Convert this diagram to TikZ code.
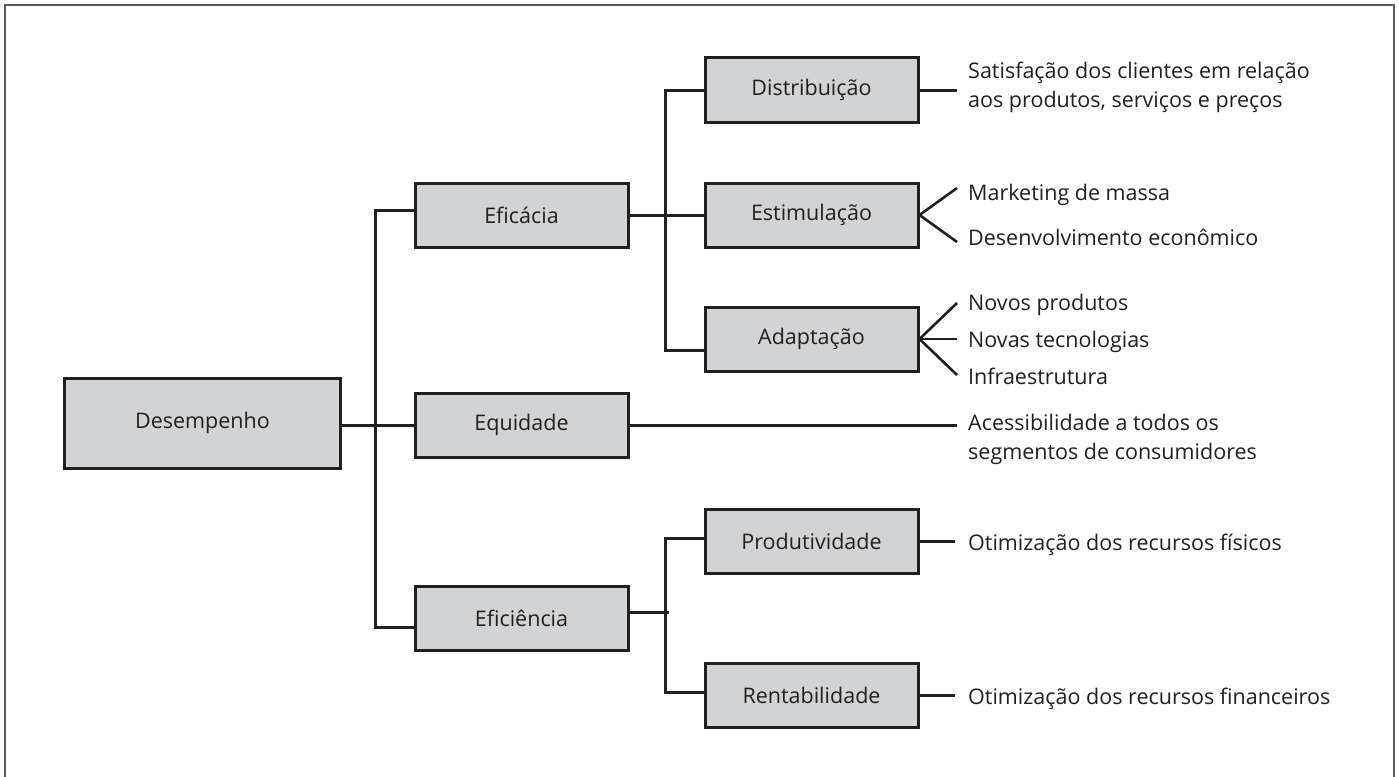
\documentclass[tikz,border=0pt]{standalone}
\usepackage{fontspec}
\setmainfont{Open Sans}
\definecolor{boxfill}{HTML}{D1D3D4}
\definecolor{boxline}{HTML}{231F20}
\definecolor{txt}{HTML}{231F20}
\definecolor{framec}{HTML}{5A5A5C}
\begin{document}
\begin{tikzpicture}[x=1pt,y=-1pt,
  font=\fontsize{21.5}{29}\selectfont,
  box/.style={draw=boxline, fill=boxfill, line width=3pt, minimum width=213pt, minimum height=64pt, inner sep=0pt, text=txt},
  link/.style={draw=boxline, line width=3pt},
  fan/.style={draw=boxline, line width=2.6pt},
  lbl/.style={anchor=west, inner sep=0pt, text=txt, align=left},
  lbl1/.style={lbl, text height=15pt, text depth=0pt}]
\useasboundingbox (0,0) rectangle (1399,776);
\draw[draw=framec, line width=2.4pt] (5,780) -- (5,5) -- (1394,5) -- (1394,780);
% boxes
\node[box, minimum width=276pt, minimum height=90pt] (des) at (202.5,423) {Desempenho};
\node[box] (efa) at (521.5,215) {Eficácia};
\node[box] (equ) at (521.5,425) {Equidade};
\node[box] (efi) at (521.5,618.5) {Eficiência};
\node[box] (dis) at (811.5,90) {Distribuição};
\node[box] (est) at (811.5,215) {Estimulação};
\node[box] (ada) at (811.5,339) {Adaptação};
\node[box] (pro) at (811.5,541.5) {Produtividade};
\node[box] (ren) at (811.5,695) {Rentabilidade};
% texts
\node[lbl] (tdis) at (968,87.5) {Satisfação dos clientes em relação\\aos produtos, serviços e preços};
\node[lbl1] (tmkt) at (968,193) {Marketing de massa};
\node[lbl1] (tdes) at (968,238) {Desenvolvimento econômico};
\node[lbl1] (tnp) at (968,303) {Novos produtos};
\node[lbl1] (tnt) at (968,340) {Novas tecnologias};
\node[lbl1] (tinf) at (968,377) {Infraestrutura};
\node[lbl] (tacc) at (968,439) {Acessibilidade a todos os\\segmentos de consumidores};
\node[lbl1] (tpro) at (968,543) {Otimização dos recursos físicos};
\node[lbl1] (tren) at (968,697) {Otimização dos recursos financeiros};
% free ends
\coordinate (cdis) at (957,90);
\coordinate (cmkt) at (957,188);
\coordinate (cdes) at (957,242);
\coordinate (cnp) at (957,303);
\coordinate (cnt) at (957,339);
\coordinate (cinf) at (957,375);
\coordinate (cacc) at (957,425);
\coordinate (cpro) at (955,541.5);
\coordinate (cren) at (955,695);
% connectors
\draw[link] (des.east |- equ.west) -- (equ.west);
\draw[link] ([yshift=5pt]efa.west) -- ++(-38,0) |- ([yshift=-8.5pt]efi.west);
\draw[link] (efa.east) -- (est.west);
\draw[link] (dis.west) -- ++(-38,0) |- ([yshift=-11pt]ada.west);
\draw[link] ([yshift=6.5pt]efi.east) -- ++(39,0) coordinate (j2);
\draw[link] ([yshift=3.5pt]pro.west) -- ++(-38,0) |- ([yshift=3pt]ren.west);
\draw[link] (dis.east) -- (cdis);
\draw[fan] (est.east) -- (cmkt);
\draw[fan] (est.east) -- (cdes);
\draw[fan] (ada.east) -- (cnp);
\draw[fan] (ada.east) -- (cnt);
\draw[fan] (ada.east) -- (cinf);
\draw[link] (equ.east) -- (cacc);
\draw[link] (pro.east) -- (cpro);
\draw[link] (ren.east) -- (cren);
\end{tikzpicture}
\end{document}
